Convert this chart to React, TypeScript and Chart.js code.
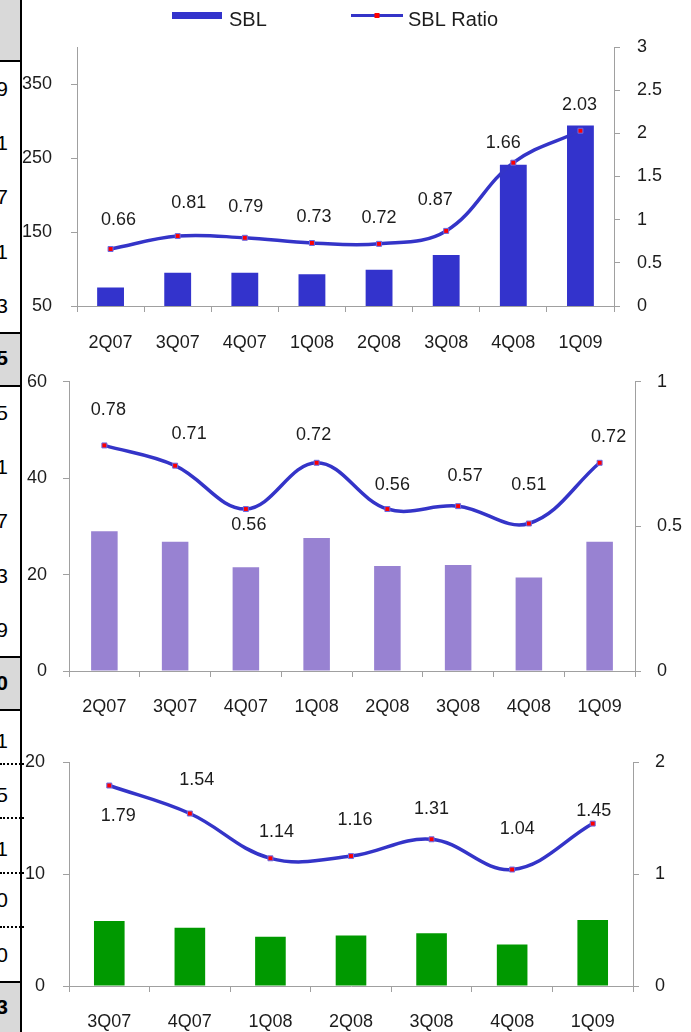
import React, { useEffect, useRef } from "react";
import { Chart, registerables } from "chart.js";

Chart.register(...registerables);

// ---------------- data ----------------
const quartersA = ["2Q07", "3Q07", "4Q07", "1Q08", "2Q08", "3Q08", "4Q08", "1Q09"];
const quartersB = ["3Q07", "4Q07", "1Q08", "2Q08", "3Q08", "4Q08", "1Q09"];

const sblTop = [75, 95, 95, 93, 99, 119, 241, 294];
const ratioTop = [0.66, 0.81, 0.79, 0.73, 0.72, 0.87, 1.66, 2.03];

const sblMid = [29, 26.8, 21.5, 27.6, 21.8, 22, 19.4, 26.8];
const ratioMid = [0.78, 0.71, 0.56, 0.72, 0.56, 0.57, 0.51, 0.72];

const sblBottom = [5.8, 5.2, 4.4, 4.5, 4.7, 3.7, 5.9];
const ratioBottom = [1.79, 1.54, 1.14, 1.16, 1.31, 1.04, 1.45];

const leftTicksTop = [50, 150, 250, 350];
const rightTicksTop = [0, 0.5, 1, 1.5, 2, 2.5, 3];
const leftTicksMid = [0, 20, 40, 60];
const rightTicksMid = [0, 0.5, 1];
const leftTicksBottom = [0, 10, 20];
const rightTicksBottom = [0, 1, 2];

const seriesNames = ["SBL", "SBL Ratio"];

// truncated table fragment on the left edge
const tableTexts = ["9", "1", "7", "1", "3", "5", "5", "1", "7", "3", "9", "0", "1", "5", "1", "0", "0", "3"];
const tableBold = [false, false, false, false, false, true, false, false, false, false, false, true, false, false, false, false, false, true];

// ---------------- layout / style ----------------
const W = 691;
const AXIS = "#a0a0a0";
const TEXT = "#1c1c1c";
const FONT = "'Liberation Sans', Arial, sans-serif";
const LINE_BLUE = "#3434c8";

const TABLE_ROW_Y = [89, 143, 197, 252, 306, 358, 413, 467, 521, 576, 630, 683, 741, 795, 849, 900, 955, 1007];
const TABLE_GRAY = [[0, 61], [333, 386], [657, 710], [982, 1032]];
const TABLE_LINES = [61, 333, 386, 657, 710, 982];
const TABLE_DOTS = [764, 818, 873, 927];

const valueLabelPlugin = {
  id: "valueLabels",
  afterDatasetsDraw(chart: any, _args: any, opts: any) {
    const ctx = chart.ctx;
    const meta = chart.getDatasetMeta(1);
    const values = chart.data.datasets[1].data;
    ctx.save();
    ctx.font = `18px ${FONT}`;
    ctx.fillStyle = TEXT;
    ctx.textAlign = "center";
    ctx.textBaseline = "middle";
    meta.data.forEach((pt: any, i: number) => {
      const off = (opts.offsets && opts.offsets[i]) || [0, -28];
      ctx.fillText(Number(values[i]).toFixed(2), pt.x + off[0], pt.y + off[1]);
    });
    ctx.restore();
  },
};

const legendPlugin = {
  id: "sblLegend",
  afterDraw(chart: any, _args: any, opts: any) {
    if (!opts || !opts.show) return;
    const ctx = chart.ctx;
    const bar = chart.data.datasets[0];
    const line = chart.data.datasets[1];
    ctx.save();
    ctx.fillStyle = bar.backgroundColor;
    ctx.fillRect(opts.boxX, opts.boxY, opts.boxW, opts.boxH);
    ctx.font = `20px ${FONT}`;
    ctx.fillStyle = TEXT;
    ctx.textAlign = "left";
    ctx.textBaseline = "middle";
    ctx.fillText(bar.label, opts.text1X, opts.textY);
    ctx.strokeStyle = line.borderColor;
    ctx.lineWidth = 3;
    ctx.beginPath();
    ctx.moveTo(opts.lineX1, opts.lineY);
    ctx.lineTo(opts.lineX2, opts.lineY);
    ctx.stroke();
    const mx = (opts.lineX1 + opts.lineX2) / 2;
    ctx.fillStyle = line.pointBackgroundColor;
    ctx.fillRect(mx - 2.5, opts.lineY - 2.5, 5, 5);
    ctx.fillStyle = TEXT;
    ctx.fillText(line.label, opts.text2X, opts.textY);
    ctx.restore();
  },
};

type Spec = {
  labels: string[];
  bars: number[];
  ratios: number[];
  leftTicks: number[];
  rightTicks: number[];
  leftRange: [number, number];
  rightRange: [number, number];
  barColor: string;
  barPct: number;
  height: number;
  area: { left: number; right: number; top: number; bottom: number };
  leftPad: number;
  rightPad: number;
  xPad: number;
  offsets: number[][];
  legend?: any;
};

const plainNumber = (v: any) => String(Number(v));

function buildConfig(s: Spec): any {
  const tickFont = { family: FONT, size: 18 };
  return {
    type: "bar",
    data: {
      labels: s.labels,
      datasets: [
        {
          type: "bar",
          label: seriesNames[0],
          data: s.bars,
          backgroundColor: s.barColor,
          yAxisID: "y",
          categoryPercentage: 1,
          barPercentage: s.barPct,
          order: 2,
        },
        {
          type: "line",
          label: seriesNames[1],
          data: s.ratios,
          yAxisID: "y2",
          borderColor: LINE_BLUE,
          borderWidth: 3.5,
          tension: 0.38,
          pointStyle: "rect",
          pointRadius: 3.5,
          pointBackgroundColor: "#ff0000",
          pointBorderColor: "#6a6ae6",
          pointBorderWidth: 1,
          order: 1,
          clip: false,
        },
      ],
    },
    options: {
      animation: false,
      responsive: true,
      maintainAspectRatio: false,
      events: [],
      layout: { padding: { top: s.area.top, left: 0, right: 0, bottom: 0 } },
      plugins: {
        legend: { display: false },
        tooltip: { enabled: false },
        title: { display: false },
        valueLabels: { offsets: s.offsets },
        sblLegend: s.legend || { show: false },
      },
      scales: {
        x: {
          type: "category",
          offset: true,
          grid: {
            display: true,
            offset: true,
            drawOnChartArea: false,
            drawTicks: true,
            tickLength: 6,
            color: AXIS,
          },
          border: { display: true, color: AXIS, width: 1 },
          ticks: { font: tickFont, color: TEXT, padding: s.xPad, maxRotation: 0, autoSkip: false },
          afterFit: (sc: any) => {
            sc.height = s.height - s.area.bottom;
          },
        },
        y: {
          position: "left",
          min: s.leftRange[0],
          max: s.leftRange[1],
          afterBuildTicks: (sc: any) => {
            sc.ticks = s.leftTicks.map((v) => ({ value: v }));
          },
          grid: { drawOnChartArea: false, drawTicks: true, tickLength: 6, color: AXIS },
          border: { display: true, color: AXIS, width: 1 },
          ticks: { font: tickFont, color: TEXT, padding: s.leftPad, callback: plainNumber },
          afterFit: (sc: any) => {
            sc.width = s.area.left;
          },
        },
        y2: {
          position: "right",
          min: s.rightRange[0],
          max: s.rightRange[1],
          afterBuildTicks: (sc: any) => {
            sc.ticks = s.rightTicks.map((v) => ({ value: v }));
          },
          grid: { drawOnChartArea: false, drawTicks: true, tickLength: 6, color: AXIS },
          border: { display: true, color: AXIS, width: 1 },
          ticks: { font: tickFont, color: TEXT, padding: s.rightPad, callback: plainNumber },
          afterFit: (sc: any) => {
            sc.width = W - s.area.right;
          },
        },
      },
    },
    plugins: [valueLabelPlugin, legendPlugin],
  };
}

const specTop: Spec = {
  labels: quartersA,
  bars: sblTop,
  ratios: ratioTop,
  leftTicks: leftTicksTop,
  rightTicks: rightTicksTop,
  leftRange: [50, 400],
  rightRange: [0, 3],
  barColor: "#3333cc",
  barPct: 0.4,
  height: 355,
  area: { left: 77, right: 614, top: 47, bottom: 306 },
  leftPad: 19,
  rightPad: 17,
  xPad: 20,
  offsets: [[8, -29], [11, -33], [1, -31], [2, -26], [0, -26], [-11, -31], [-10, -20], [-1, -26]],
  legend: {
    show: true,
    boxX: 172, boxY: 12, boxW: 50, boxH: 7,
    text1X: 229, textY: 20,
    lineX1: 351, lineX2: 403, lineY: 15.5,
    text2X: 408,
  },
};

const MID_TOP = 355;
const specMid: Spec = {
  labels: quartersA,
  bars: sblMid,
  ratios: ratioMid,
  leftTicks: leftTicksMid,
  rightTicks: rightTicksMid,
  leftRange: [0, 60],
  rightRange: [0, 1],
  barColor: "#9882d2",
  barPct: 0.375,
  height: 365,
  area: { left: 69, right: 635, top: 369 - MID_TOP, bottom: 671 - MID_TOP },
  leftPad: 16,
  rightPad: 16,
  xPad: 19,
  offsets: [[4, -35], [14, -32], [3, 16], [-3, -28], [5, -24], [7, -30], [0, -38], [9, -26]],
};

const BOT_TOP = 720;
const specBottom: Spec = {
  labels: quartersB,
  bars: sblBottom,
  ratios: ratioBottom,
  leftTicks: leftTicksBottom,
  rightTicks: rightTicksBottom,
  leftRange: [0, 20],
  rightRange: [0, 2],
  barColor: "#009900",
  barPct: 0.38,
  height: 312,
  area: { left: 69, right: 633, top: 762 - BOT_TOP, bottom: 986 - BOT_TOP },
  leftPad: 18,
  rightPad: 16,
  xPad: 19,
  offsets: [[9, 31], [7, -33], [6, -26], [4, -36], [0, -30], [5, -40], [1, -13]],
};

function ComboChart({ spec, top }: { spec: Spec; top: number }) {
  const ref = useRef<HTMLCanvasElement>(null);
  useEffect(() => {
    const chart = new Chart(ref.current as HTMLCanvasElement, buildConfig(spec));
    return () => chart.destroy();
  }, [spec]);
  return (
    <div style={{ position: "absolute", left: 0, top, width: W, height: spec.height }}>
      <canvas ref={ref} />
    </div>
  );
}

function TableFragment() {
  return (
    <div
      style={{
        position: "absolute",
        left: 0,
        top: 0,
        width: 24,
        height: 1032,
        overflow: "hidden",
        zIndex: 2,
      }}
    >
      <div style={{ position: "absolute", left: 0, top: 0, width: 21, height: 1032, background: "#fff" }} />
      {TABLE_GRAY.map(([a, b], i) => (
        <div key={"g" + i} style={{ position: "absolute", left: 0, top: a, width: 21, height: b - a, background: "#d9d9d9" }} />
      ))}
      {TABLE_LINES.map((y, i) => (
        <div key={"l" + i} style={{ position: "absolute", left: 0, top: y - 1, width: 22, height: 2, background: "#000" }} />
      ))}
      {TABLE_DOTS.map((y, i) => (
        <div key={"d" + i} style={{ position: "absolute", left: 0, top: y - 1, width: 24, height: 0, borderTop: "2px dotted #000" }} />
      ))}
      <div style={{ position: "absolute", left: 20, top: 0, width: 2, height: 1032, background: "#000" }} />
      {tableTexts.map((t, i) => (
        <div
          key={"t" + i}
          style={{
            position: "absolute",
            left: -32,
            top: TABLE_ROW_Y[i] - 12,
            width: 40,
            height: 24,
            lineHeight: "24px",
            textAlign: "right",
            fontFamily: FONT,
            fontSize: 21,
            fontWeight: tableBold[i] ? "bold" : "normal",
            color: "#000",
          }}
        >
          {t}
        </div>
      ))}
    </div>
  );
}

export default function App() {
  return (
    <div
      style={{
        position: "fixed",
        left: 0,
        top: 0,
        width: W,
        height: 1032,
        background: "#fff",
        overflow: "hidden",
      }}
    >
      <ComboChart spec={specTop} top={0} />
      <ComboChart spec={specMid} top={MID_TOP} />
      <ComboChart spec={specBottom} top={BOT_TOP} />
      <TableFragment />
    </div>
  );
}
